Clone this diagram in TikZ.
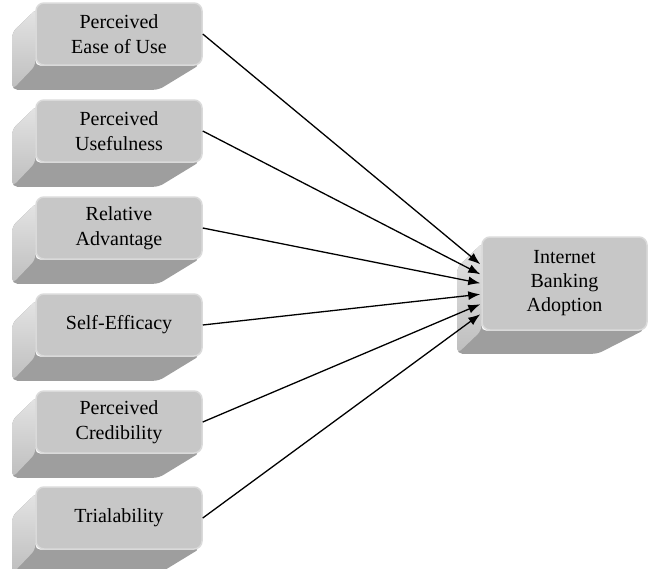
\documentclass[tikz,border=0pt]{standalone}
\usepackage{fontspec}
\setmainfont{Liberation Serif}
\usetikzlibrary{arrows.meta,calc}
\pgfdeclarelayer{bg}
\pgfsetlayers{bg,main}
\definecolor{frontfill}{RGB}{199,199,199}
\definecolor{frontedge}{RGB}{218,218,218}
\definecolor{bottomdark}{RGB}{158,158,158}
\definecolor{leftlight}{RGB}{228,228,228}
\definecolor{leftdark}{RGB}{190,190,190}
\tikzset{
  front/.style={draw=frontedge, line width=1.5pt, fill=frontfill, rounded corners=8pt,
    minimum width=166pt, minimum height=62pt, align=center, inner sep=0pt,
    font=\fontsize{20}{25}\selectfont},
  link/.style={line width=1.3pt, -{Latex[length=12pt,width=9pt]}}
}
\newcommand\bevelbox[4]{%
  \begin{pgfonlayer}{bg}
  \fill[bottomdark, rounded corners=5pt] ($(#1.north west)+(2,6)$) -- ($(#1.north west)+(-#2,#2+7)$)
    -- ($(#1.south west)+(-#2,#3)$) -- ($(#1.south east)+(-#4,#3)$) -- ($(#1.south east)+(-3,-1)$)
    -- (#1.south west) -- cycle;
  \shade[top color=leftlight, bottom color=leftdark, rounded corners=5pt] ($(#1.north west)+(2,6)$)
    -- ($(#1.north west)+(-#2,#2+7)$) -- ($(#1.south west)+(-#2,#3)$) -- ($(#1.south west)+(0,0)$) -- cycle;
  \end{pgfonlayer}}
\begin{document}
\begin{tikzpicture}[x=1pt,y=-1pt]
\useasboundingbox (0,0) rectangle (648,568);
\node[front] (peou) at (119,34) {Perceived\\Ease of Use};
\node[front] (pu) at (119,131) {Perceived\\Usefulness};
\node[front] (ra) at (119,228) {Relative\\Advantage};
\node[front] (se) at (119,325) {Self-Efficacy};
\node[front] (pc) at (119,422) {Perceived\\Credibility};
\node[front] (tr) at (119,518) {Trialability};
\node[front, minimum width=165pt, minimum height=93pt, font=\fontsize{20}{24}\selectfont] (iba) at (564.5,283.5) {Internet\\Banking\\Adoption};
\foreach \n in {peou,pu,ra,se,pc,tr} {\bevelbox{\n}{23}{24}{44}}
\bevelbox{iba}{24}{23}{50}
\coordinate (t1) at ($(iba.north west)+(-1,28)$);
\coordinate (t2) at ($(iba.north west)+(-1,38)$);
\coordinate (t3) at ($(iba.north west)+(-1,47)$);
\coordinate (t4) at ($(iba.north west)+(-1,58)$);
\coordinate (t5) at ($(iba.north west)+(-1,68)$);
\coordinate (t6) at ($(iba.north west)+(-1,78)$);
\draw[link] (peou.east) -- (t1);
\draw[link] (pu.east) -- (t2);
\draw[link] (ra.east) -- (t3);
\draw[link] (se.east) -- (t4);
\draw[link] (pc.east) -- (t5);
\draw[link] (tr.east) -- (t6);
\end{tikzpicture}
\end{document}
